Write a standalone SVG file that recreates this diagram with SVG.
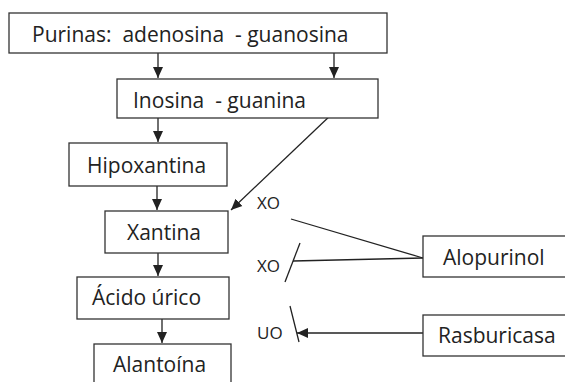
<svg xmlns="http://www.w3.org/2000/svg" width="565" height="382" viewBox="0 0 565 382">
<defs>
<style>
.box{fill:#fff;stroke:#333;stroke-width:1.3}
.t{font-family:"Open Sans","Noto Sans",sans-serif;font-size:21px;fill:#222;white-space:pre}
.s{font-family:"Open Sans","Noto Sans",sans-serif;font-size:17px;fill:#222}
.ln{stroke:#222;stroke-width:1.3;fill:none}
</style>
<marker id="ah" markerWidth="11" markerHeight="11" viewBox="0 0 11 11" refX="11" refY="5.5" orient="auto" markerUnits="userSpaceOnUse">
<path d="M0,0.5 L11,5.5 L0,10.5 Z" fill="#222"/>
</marker>
</defs>
<rect width="565" height="382" fill="#fff"/>
<g id="connectors">
<line class="ln" x1="158" y1="53" x2="158" y2="78" marker-end="url(#ah)"/>
<line class="ln" x1="334" y1="53" x2="334" y2="78" marker-end="url(#ah)"/>
<line class="ln" x1="158" y1="118" x2="158" y2="142" marker-end="url(#ah)"/>
<line class="ln" x1="333" y1="113" x2="231" y2="210" marker-end="url(#ah)"/>
<line class="ln" x1="157" y1="186" x2="157" y2="210" marker-end="url(#ah)"/>
<line class="ln" x1="158" y1="253" x2="158" y2="276" marker-end="url(#ah)"/>
<line class="ln" x1="162" y1="319" x2="162" y2="343" marker-end="url(#ah)"/>
<line class="ln" x1="291" y1="219" x2="423" y2="258"/>
<line class="ln" x1="293" y1="261" x2="423" y2="258"/>
<line class="ln" x1="300" y1="243" x2="285" y2="282"/>
<line class="ln" x1="290" y1="306" x2="299" y2="342"/>
<line class="ln" x1="423" y1="333" x2="297" y2="333" marker-end="url(#ah)"/>
<text class="s" x="257" y="209">XO</text>
<text class="s" x="257" y="272">XO</text>
<text class="s" x="257" y="339">UO</text>
</g>
<g id="purinas">
<rect class="box" x="9" y="13" width="378" height="40"/>
<text class="t" x="32" y="42" xml:space="preserve">Purinas:  adenosina  - guanosina</text>
</g>
<g id="inosina">
<rect class="box" x="117" y="79" width="261" height="39"/>
<text class="t" x="133" y="108" xml:space="preserve">Inosina  - guanina</text>
</g>
<g id="hipoxantina">
<rect class="box" x="69" y="143" width="158" height="43"/>
<text class="t" x="87" y="173">Hipoxantina</text>
</g>
<g id="xantina">
<rect class="box" x="105" y="211" width="123" height="42"/>
<text class="t" x="127" y="240">Xantina</text>
</g>
<g id="acido-urico">
<rect class="box" x="77" y="277" width="152" height="42"/>
<text class="t" x="92" y="305">Ácido úrico</text>
</g>
<g id="alantoina">
<rect class="box" x="94" y="344" width="137" height="50"/>
<text class="t" x="113" y="372">Alantoína</text>
</g>
<g id="alopurinol">
<rect class="box" x="423" y="236" width="150" height="41"/>
<text class="t" x="443" y="265">Alopurinol</text>
</g>
<g id="rasburicasa">
<rect class="box" x="423" y="315" width="150" height="41"/>
<text class="t" x="438" y="343">Rasburicasa</text>
</g>
</svg>
